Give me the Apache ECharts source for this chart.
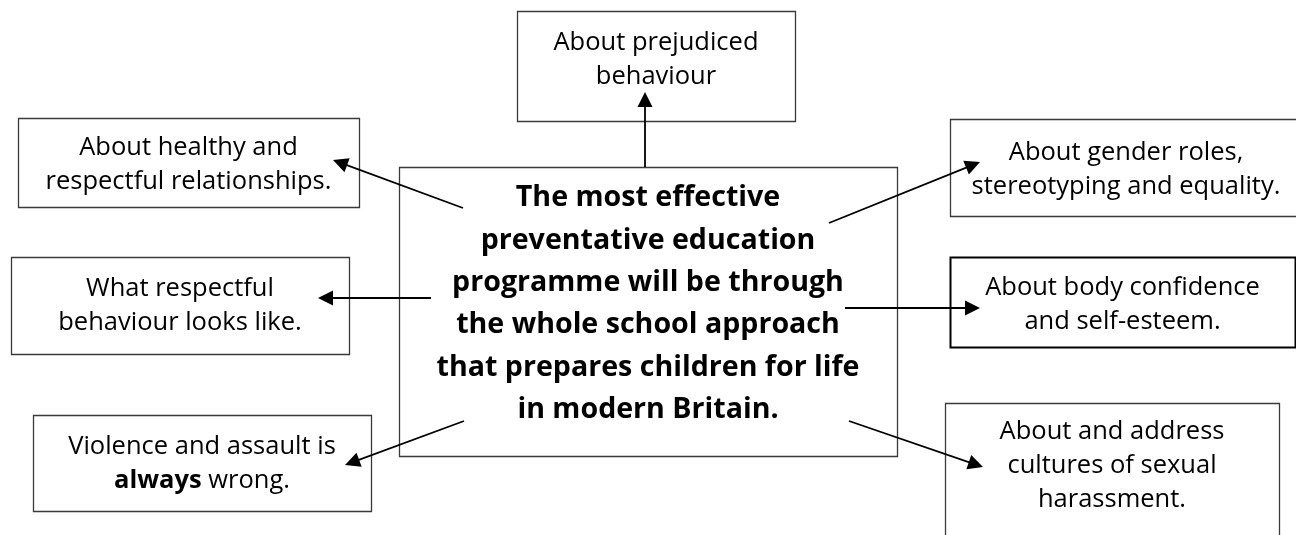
<!DOCTYPE html>
<html>
<head>
<meta charset="utf-8">
<script src="https://cdn.jsdelivr.net/npm/echarts@6/dist/echarts.min.js"></script>
<style>
html,body{margin:0;padding:0;background:#fff;}
#main{width:1296px;height:535px;}
</style>
</head>
<body>
<div id="main"></div>
<script>
// box texts
var centreText = 'The most effective\npreventative education\nprogramme will be through\nthe whole school approach\nthat prepares children for life\nin modern Britain.';
var boxTexts = [
	'About prejudiced\nbehaviour',
	'About healthy and\nrespectful relationships.',
	'About gender roles,\nstereotyping and equality.',
	'What respectful\nbehaviour looks like.',
	'About body confidence\nand self-esteem.',
	'Violence and assault is\n{b|always} wrong.',
	'About and address\ncultures of sexual\nharassment.'
];

// layout (pixels): x, y, w, h
var centreBox = [399, 167, 498, 289];
var centreTextY = 304;
var boxLayout = [
	[517, 11, 278, 110],
	[18, 118, 341, 89],
	[950, 119, 352, 97],
	[11, 257, 338, 97],
	[950, 257, 345, 90],
	[33, 415, 338, 96],
	[945, 403, 334, 145]
];
var textCentres = [60, 165, 170, 306, 305, 464, 466];
// arrows: from -> tip
var arrows = [
	[[645, 167], [645, 92]],
	[[463, 208], [333, 160]],
	[[829, 223], [980, 162]],
	[[431, 298], [318, 298]],
	[[845, 308], [980, 308]],
	[[464, 421], [345, 465]],
	[[849, 421], [983, 467]]
];
var headLen = 15;

var dom = document.getElementById('main');
var myChart = echarts.init(dom);

var font = '"Open Sans", "Noto Sans", sans-serif';

function renderBox(params, api) {
	var i = api.value(0);
	var isCentre = i < 0;
	var b = isCentre ? centreBox : boxLayout[i];
	var p = api.coord([b[0], b[1]]);
	var q = api.coord([b[0] + b[2], b[1] + b[3]]);
	var ty = api.coord([0, isCentre ? centreTextY : textCentres[i]])[1];
	return {
		type: 'group',
		children: [{
			type: 'rect',
			shape: {x: p[0] + 0.5, y: p[1] + 0.5, width: q[0] - p[0], height: q[1] - p[1]},
			style: {fill: '#fff', stroke: i === 4 ? '#000' : '#3a3a3a', lineWidth: i === 4 ? 2 : 1.3}
		}, {
			type: 'text',
			x: (p[0] + q[0]) / 2,
			y: ty,
			style: {
				text: isCentre ? centreText : boxTexts[i],
				fontFamily: font,
				fontSize: isCentre ? 28.6 : 25.5,
				fontWeight: isCentre ? 'bold' : 'normal',
				lineHeight: isCentre ? 42.4 : 34,
				fill: '#000',
				align: 'center',
				verticalAlign: 'middle',
				rich: {
					b: {fontFamily: font, fontSize: 25.5, fontWeight: 'bold', fill: '#000', lineHeight: 34}
				}
			}
		}]
	};
}

var boxData = [[-1]];
for (var k = 0; k < boxTexts.length; k++) {
	boxData.push([k]);
}

// the triangle symbol sits centred on the line end, so pull the end back by half its length
var arrowData = arrows.map(function(a) {
	var dx = a[1][0] - a[0][0], dy = a[1][1] - a[0][1];
	var len = Math.sqrt(dx * dx + dy * dy);
	var s = headLen / 2 / len;
	return {coords: [a[0], [a[1][0] - dx * s, a[1][1] - dy * s]]};
});

var option = {
	animation: false,
	grid: {left: 0, right: 0, top: 0, bottom: 0},
	xAxis: {type: 'value', min: 0, max: 1296, show: false},
	yAxis: {type: 'value', min: 0, max: 535, inverse: true, show: false},
	series: [{
		type: 'custom',
		renderItem: renderBox,
		data: boxData,
		silent: true,
		z: 1
	}, {
		type: 'lines',
		coordinateSystem: 'cartesian2d',
		symbol: ['none', 'triangle'],
		symbolSize: [12, headLen],
		silent: true,
		z: 3,
		lineStyle: {color: '#000', width: 1.8, opacity: 1},
		data: arrowData
	}]
};

myChart.setOption(option);
</script>
</body>
</html>
